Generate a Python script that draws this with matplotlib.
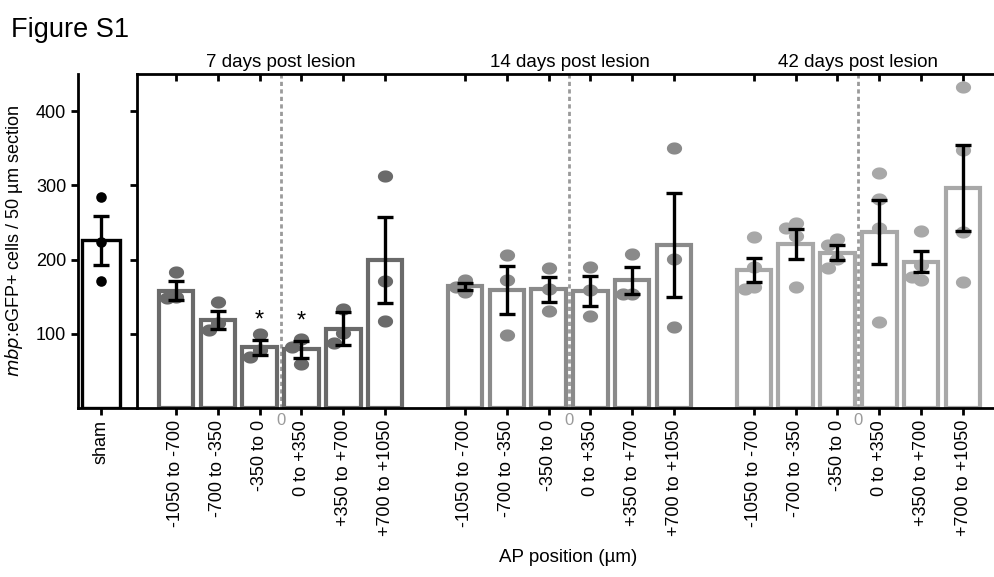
import matplotlib
matplotlib.use("Agg")
import matplotlib.pyplot as plt
import numpy as np
from matplotlib.transforms import blended_transform_factory
from matplotlib.path import Path

plt.rcParams['font.family'] = ['Liberation Sans', 'DejaVu Sans']

# ---------------- data ----------------
ap_labels = ["-1050 to -700", "-700 to -350", "-350 to 0",
             "0 to +350", "+350 to +700", "+700 to +1050"]
group_titles = ["7 days post lesion", "14 days post lesion", "42 days post lesion"]

sham_mean = 226
sham_sem = 33
sham_points = [284, 224, 171]

d7_mean = [158, 119, 82, 79, 107, 199]
d7_sem = [13, 12, 10, 11, 22, 58]
d7_points = [[183, 150, 148], [143, 105, 114], [100, 69, 78],
             [93, 59, 82], [133, 87, 101], [312, 171, 117]]

d14_mean = [164, 159, 160, 158, 172, 220]
d14_sem = [5, 32, 17, 20, 18, 70]
d14_points = [[173, 156, 163], [206, 172, 98], [188, 161, 131],
              [190, 159, 124], [208, 154, 154], [350, 201, 109]]

d42_mean = [186, 221, 209, 237, 197, 296]
d42_sem = [16, 20, 10, 43, 14, 58]
d42_points = [[230, 161, 163, 190], [242, 249, 163, 232], [228, 188, 219, 201],
              [316, 282, 242, 116], [239, 192, 177, 173], [432, 348, 237, 170]]

star_bars = [2, 3]  # 7 dpl bars marked with *

means = [d7_mean, d14_mean, d42_mean]
sems = [d7_sem, d14_sem, d42_sem]
points = [d7_points, d14_points, d42_points]
colors = ["#6a6a6a", "#8a8a8a", "#a8a8a8"]

# ---------------- figure ----------------
W, H = 995, 577
fig = plt.figure(figsize=(W / 100, H / 100), dpi=100)

def fx(px):
    return px / W

def fy(py):
    return 1 - py / H

FS = 13
top_px, bot_px = 74, 408
ymax = 450
unit = 42.0  # px per bar slot

# elliptical dot marker (wider than tall)
t = np.linspace(0, 2 * np.pi, 60)
ell = Path(np.column_stack([np.cos(t), 0.8 * np.sin(t)]), closed=True)

# sham axis
sham_l, sham_r = 78, 137
ax0 = fig.add_axes([fx(sham_l), fy(bot_px), fx(sham_r - sham_l), (bot_px - top_px) / H])
# main axis
main_l = 137
ax1 = fig.add_axes([fx(main_l), fy(bot_px), 1 - fx(main_l) + 0.01, (bot_px - top_px) / H])

for ax in (ax0, ax1):
    ax.set_ylim(0, ymax)
    ax.set_yticks([100, 200, 300, 400])
    ax.spines['right'].set_visible(False)
    for s in ax.spines.values():
        s.set_linewidth(2.0)
    ax.tick_params(axis='both', width=2.0, length=5, labelsize=FS, color='black')
    ax.patch.set_alpha(0)

ax0.spines['top'].set_visible(False)
ax1.tick_params(axis='y', labelleft=False)


def swarm(vals, thr=15, step=0.2):
    order = np.argsort(vals)[::-1]
    placed = []
    offs = [0.0] * len(vals)
    for i in order:
        for k in [0, -1, 1, -2, 2]:
            o = k * step
            ok = all(not (abs(o - po) < 0.05 and abs(vals[i] - pv) < thr) for po, pv in placed)
            if ok:
                offs[i] = o
                placed.append((o, vals[i]))
                break
    return offs

# sham
sham_w_units = (sham_r - sham_l) / unit
sham_pos = (101 - sham_l) / unit
ax0.set_xlim(0, sham_w_units)
ax0.bar([sham_pos], [sham_mean], width=0.9, facecolor='white', edgecolor='black',
        linewidth=2.4, zorder=2)
so = swarm(sham_points)
ax0.scatter([sham_pos + o for o in so], sham_points, s=58, color='black', zorder=3, linewidths=0)
ax0.errorbar([sham_pos], [sham_mean], yerr=[sham_sem], fmt='none', ecolor='black',
             elinewidth=2.4, capsize=6, capthick=2.4, zorder=4)
ax0.set_xticks([sham_pos])
ax0.set_xticklabels(["sham"], rotation=90)
ax0.set_yticklabels(["100", "200", "300", "400"])
ax0.set_ylabel(r"$\mathit{mbp}$:eGFP+ cells / 50 µm section", fontsize=FS, labelpad=8)

# main groups
gap = 6.9
first_px = 176
ax1.set_xlim(-(first_px - main_l) / unit, (W - first_px) / unit + 0.3)
ticks, ticklabels = [], []
trans = blended_transform_factory(ax1.transData, ax1.transAxes)
for g in range(3):
    xs = [g * gap + i for i in range(6)]
    ax1.bar(xs, means[g], width=0.82, facecolor='white', edgecolor=colors[g],
            linewidth=3.0, zorder=2)
    for i, x in enumerate(xs):
        pts = points[g][i]
        offs = swarm(pts, thr=17, step=0.22)
        ax1.scatter([x + o for o in offs], pts, s=120, marker=ell, color=colors[g],
                    zorder=3, linewidths=0)
    ax1.errorbar(xs, means[g], yerr=sems[g], fmt='none', ecolor='black',
                 elinewidth=2.4, capsize=6, capthick=2.4, zorder=4)
    mid = g * gap + 2.5
    ax1.axvline(mid, color='#9a9a9a', linestyle=(0, (1.5, 1.2)), linewidth=2.0, zorder=1)
    ax1.text(mid, -0.015, "0", transform=trans, ha='center', va='top', fontsize=12,
             color='#9a9a9a')
    ax1.text(mid, 1.01, group_titles[g], transform=trans, ha='center', va='bottom',
             fontsize=13.5)
    ticks += xs
    ticklabels += ap_labels

for i in star_bars:
    ax1.text(i, d7_mean[i] + d7_sem[i] + 26, "*", ha='center', va='center', fontsize=17)

ax1.set_xticks(ticks)
ax1.set_xticklabels(ticklabels, rotation=90)
ax1.tick_params(axis='x', top=True, direction='out')
for tk in ax1.xaxis.get_major_ticks():
    tk.tick2line.set_marker(3)  # downward (inside) tick for top spine
    tk.tick2line.set_markersize(5)

fig.text(fx(568), fy(557), "AP position (µm)", ha='center', va='center', fontsize=13.5)
fig.text(fx(11), fy(30), "Figure S1", ha='left', va='center', fontsize=19.5)

fig.savefig("out.png", dpi=100)
